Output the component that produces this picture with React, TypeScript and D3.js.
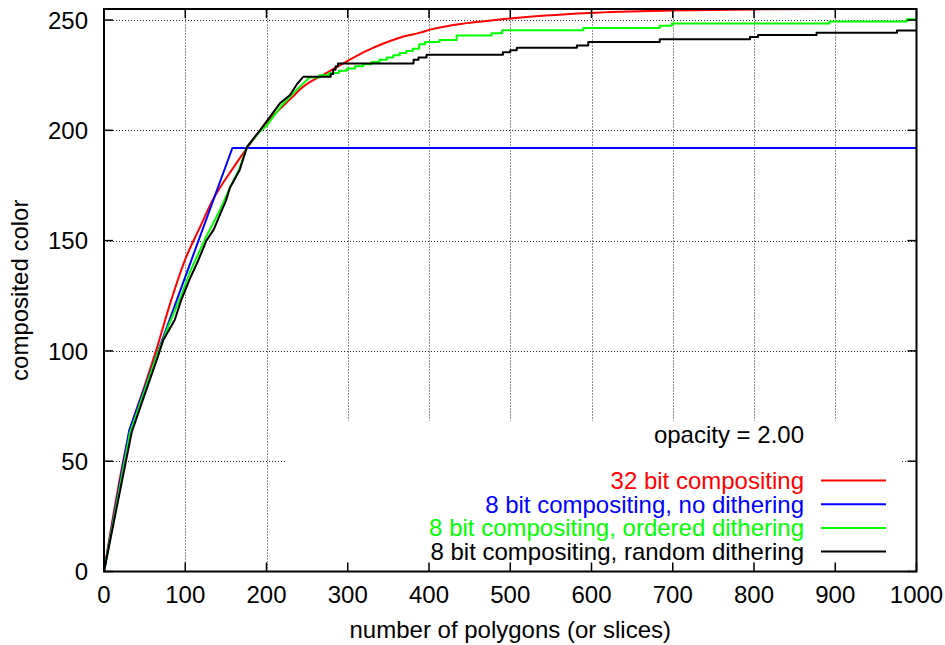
import React from "react";
import * as d3 from "d3";

const W = 945;
const H = 645;
const margin = { top: 9, right: 28.5, bottom: 73.5, left: 104 };
const FONT = "'Liberation Sans', Arial, Helvetica, sans-serif";

const xTicks = [0, 100, 200, 300, 400, 500, 600, 700, 800, 900, 1000];
const yTicks = [0, 50, 100, 150, 200, 250];

// 32 bit compositing (smooth)
const red32: [number, number][] = [
  [0, 0], [32, 64], [48, 82], [64, 100], [81, 121], [100, 141.5], [118, 156],
  [134, 168.5], [159, 183], [180, 194], [200, 203.5], [233, 215.5], [241, 218.5],
  [274, 226], [300, 231.5], [323, 236], [364, 242], [389, 244.3], [405, 246],
  [446, 248.6], [487, 250.2], [500, 250.7], [598, 253.2], [700, 254.3],
  [800, 254.8], [900, 255], [1000, 255],
];

// 8 bit, no dithering
const blueNoDither: [number, number][] = [
  [0, 0], [31, 64], [158, 192], [1000, 192],
];

// 8 bit, ordered dithering
const greenRise: [number, number][] = [
  [0, 0], [32, 63], [48, 80], [65, 98], [80, 112], [95, 125], [106, 136],
  [126, 152], [143, 164], [155, 174], [167, 183], [176, 192.5], [192, 199.5],
  [200, 202], [218, 211], [236, 218], [253, 224],
];
const greenSteps: [number, number][] = [
  [253, 224], [265, 225], [277, 226], [289, 227], [299, 228], [309, 229],
  [319, 230], [329, 231], [339, 232], [348, 233], [356, 234], [364, 235],
  [372, 236], [380, 237], [388, 239], [395, 240], [413, 241], [434, 243],
  [477, 244], [490, 245.4], [590, 246.4], [684, 247.4], [699, 248.4],
  [893, 249.3], [988, 250.3], [1000, 250.3],
];

// 8 bit, random dithering
const blackRise: [number, number][] = [
  [0, 0], [34, 63], [48, 78], [65, 96], [73, 105], [87, 114], [95, 123],
  [106, 133], [116, 141], [126, 150], [135, 155], [143, 162], [150, 168],
  [155, 174], [167, 182], [176, 192.5], [192, 200], [206, 207], [217, 212.4],
  [229, 216], [237, 220.7], [243, 223.3], [245, 224.3],
];
const blackSteps: [number, number][] = [
  [245, 224.3], [279, 225.5], [282, 227.5], [285, 229], [288, 230.3],
  [381, 232], [387, 233], [397, 234.3], [491, 235.4], [500, 236.3],
  [508, 237.4], [582, 238.4], [596, 240], [684, 241.3], [795, 242.3],
  [805, 243.2], [877, 244.2], [976, 245.2], [1000, 245.2],
];

const legendTitle = "opacity = 2.00";
const legendLabels = [
  "32 bit compositing",
  "8 bit compositing, no dithering",
  "8 bit compositing, ordered dithering",
  "8 bit compositing, random dithering",
];
const legendColors = ["#ff0000", "#0000ff", "#00ff00", "#000000"];

const App = () => {
  const x = d3
    .scaleLinear()
    .domain([0, 1000])
    .range([margin.left, W - margin.right]);
  const y = d3
    .scaleLinear()
    .domain([0, 255])
    .range([H - margin.bottom, margin.top]);

  const smooth = d3
    .line<[number, number]>()
    .x((d) => x(d[0]))
    .y((d) => y(d[1]))
    .curve(d3.curveMonotoneX);
  const lin = d3
    .line<[number, number]>()
    .x((d) => x(d[0]))
    .y((d) => y(d[1]));
  const step = d3
    .line<[number, number]>()
    .x((d) => x(d[0]))
    .y((d) => y(d[1]))
    .curve(d3.curveStepAfter);

  const crisp = (v: number) => Math.round(v) + 0.5;

  const x0 = x(0);
  const x1 = x(1000);
  const yB = y(0);
  const yT = y(255);

  // legend box (opaque, hides the grid)
  const key = { x: 286, y: 421, w: 614, h: yB - 421 };
  const keyTextX = 804;
  const keyLine = [821, 886];
  const rowBase = 489;
  const rowH = 23.7;

  return (
    <svg
      width={W}
      height={H}
      style={{ position: "absolute", left: 0, top: 0, background: "#fff" }}
      fontFamily={FONT}
    >
      <rect x={0} y={0} width={W} height={H} fill="#fff" />
      {/* grid */}
      <g stroke="#222" strokeWidth={1} strokeDasharray="1,2">
        {xTicks.slice(1, -1).map((t) => (
          <line
            key={"gx" + t}
            x1={crisp(x(t))}
            x2={crisp(x(t))}
            y1={yB}
            y2={yT}
          />
        ))}
        {yTicks.slice(1).map((t) => (
          <line
            key={"gy" + t}
            x1={x0}
            x2={x1}
            y1={crisp(y(t))}
            y2={crisp(y(t))}
          />
        ))}
      </g>
      <rect x={key.x} y={key.y} width={key.w} height={key.h} fill="#fff" />

      {/* curves */}
      <g fill="none" strokeWidth={2} strokeLinejoin="round">
        <path d={smooth(red32) || ""} stroke={legendColors[0]} />
        <path d={lin(blueNoDither) || ""} stroke={legendColors[1]} />
        <path d={lin(greenRise) || ""} stroke={legendColors[2]} />
        <path d={step(greenSteps) || ""} stroke={legendColors[2]} />
        <path d={lin(blackRise) || ""} stroke={legendColors[3]} />
        <path d={step(blackSteps) || ""} stroke={legendColors[3]} />
      </g>

      {/* border */}
      <rect
        x={x0}
        y={yT}
        width={x1 - x0}
        height={yB - yT}
        fill="none"
        stroke="#000"
        strokeWidth={2}
      />

      {/* ticks */}
      <g stroke="#000" strokeWidth={1.5}>
        {xTicks.map((t) => (
          <g key={"tx" + t}>
            <line x1={x(t)} x2={x(t)} y1={yB} y2={yB - 9} />
            <line x1={x(t)} x2={x(t)} y1={yT} y2={yT + 9} />
          </g>
        ))}
        {yTicks.map((t) => (
          <g key={"ty" + t}>
            <line x1={x0} x2={x0 + 9} y1={y(t)} y2={y(t)} />
            <line x1={x1} x2={x1 - 9} y1={y(t)} y2={y(t)} />
          </g>
        ))}
      </g>

      {/* tick labels */}
      <g fontSize={24} fill="#000">
        {xTicks.map((t) => (
          <text key={"lx" + t} x={x(t)} y={603} textAnchor="middle">
            {t}
          </text>
        ))}
        {yTicks.map((t) => (
          <text key={"ly" + t} x={88} y={y(t) + 8.6} textAnchor="end">
            {t}
          </text>
        ))}
      </g>

      {/* axis titles */}
      <text
        x={(x0 + x1) / 2}
        y={638}
        fontSize={24}
        textAnchor="middle"
        fill="#000"
      >
        number of polygons (or slices)
      </text>
      <text
        transform={`translate(28, ${(yT + yB) / 2}) rotate(-90)`}
        fontSize={24}
        textAnchor="middle"
        fill="#000"
      >
        composited color
      </text>

      {/* legend */}
      <g fontSize={24}>
        <text x={keyTextX} y={443} textAnchor="end" fill="#000">
          {legendTitle}
        </text>
        {legendLabels.map((label, i) => (
          <g key={label}>
            <text
              x={keyTextX}
              y={rowBase + i * rowH}
              textAnchor="end"
              fill={legendColors[i]}
            >
              {label}
            </text>
            <line
              x1={keyLine[0]}
              x2={keyLine[1]}
              y1={rowBase + i * rowH - 8.5}
              y2={rowBase + i * rowH - 8.5}
              stroke={legendColors[i]}
              strokeWidth={2}
            />
          </g>
        ))}
      </g>
    </svg>
  );
};

export default App;
